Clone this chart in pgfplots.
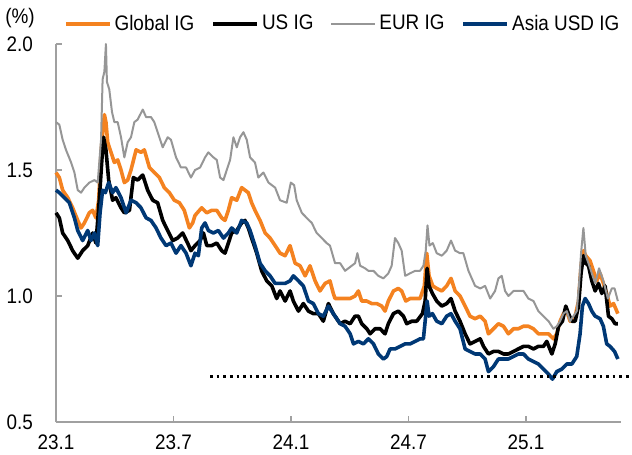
\documentclass[border=0pt]{standalone}
\usepackage{fontspec}
\setmainfont[FakeStretch=0.9]{Liberation Sans}
\usepackage{pgfplots}
\pgfplotsset{compat=1.18}
\definecolor{cOrange}{RGB}{244,130,32}
\definecolor{cBlue}{RGB}{0,56,117}
\definecolor{cGray}{RGB}{150,150,150}
\definecolor{axgray}{RGB}{160,160,160}
\begin{document}
\begin{tikzpicture}[font=\fontsize{10.5}{12}\selectfont]
\begin{axis}[
  scale only axis, width=282.5pt, height=189pt,
  xmin=0, xmax=28.85, ymin=0.5, ymax=2.0,
  clip=false,
  axis lines=left,
  axis line style={draw=axgray, line width=0.8pt, -},
  tick style={draw=axgray, line width=0.8pt},
  tick align=inside, major tick length=3pt,
  xtick={0,6,12,18,24}, xticklabels={23.1,23.7,24.1,24.7,25.1},
  ytick={0.5,1.0,1.5,2.0},
  /pgf/number format/assume math mode=true,
  yticklabel style={/pgf/number format/fixed, /pgf/number format/fixed zerofill, /pgf/number format/precision=1, xshift=-8pt},
  xticklabel style={yshift=-3pt},
  legend columns=4,
  legend image code/.code={\draw[#1] (0pt,0pt) -- (22pt,0pt);},
  legend style={draw=none, fill=none, at={(axis description cs:0,1)}, anchor=west,
    xshift=4pt, yshift=10pt, inner sep=0pt, outer sep=0pt,
    nodes={inner xsep=1.5pt, inner ysep=0pt},
    /tikz/every even column/.append style={column sep=7pt}},
  every axis plot/.append style={line join=round},
]
\addplot[cOrange, line width=1.8pt] coordinates {
(0,1.49)(0.17,1.47)(0.34,1.42)(0.60,1.39)(0.85,1.35)(1.11,1.30)(1.28,1.27)(1.45,1.29)(1.70,1.33)(1.87,1.34)(2.04,1.31)(2.18,1.38)(2.30,1.57)(2.47,1.72)(2.55,1.69)(2.64,1.61)(2.81,1.57)(2.98,1.53)(3.15,1.54)(3.32,1.50)(3.49,1.45)(3.66,1.46)(3.83,1.50)(4.09,1.58)(4.34,1.57)(4.51,1.58)(4.77,1.51)(5.02,1.49)(5.28,1.47)(5.53,1.43)(5.79,1.41)(6.04,1.38)(6.30,1.37)(6.55,1.34)(6.81,1.27)(6.98,1.29)
(7.10,1.32)(7.44,1.35)(7.70,1.33)(7.95,1.34)(8.21,1.34)(8.46,1.31)(8.63,1.30)(8.80,1.34)(8.97,1.39)(9.23,1.38)(9.48,1.43)(9.65,1.42)(9.82,1.41)(9.99,1.37)(10.16,1.34)(10.42,1.30)(10.68,1.25)(10.93,1.23)(11.19,1.20)(11.44,1.17)(11.70,1.16)(11.95,1.20)(12.21,1.13)(12.46,1.12)(12.72,1.08)(12.97,1.12)(13.23,1.06)(13.48,1.02)(13.74,1.05)(13.99,1.06)(14.16,1.01)
(14.25,0.99)(14.51,0.99)(14.76,0.99)(15.02,0.99)(15.27,1.00)(15.44,1.02)(15.61,0.98)(15.87,0.98)(16.12,0.97)(16.38,0.97)(16.63,0.96)(16.80,0.94)(16.97,0.98)(17.23,1.02)(17.48,1.03)(17.65,1.02)(17.86,0.98)(18.08,0.99)(18.34,0.99)(18.59,0.99)(18.81,1.04)(18.93,1.17)(19.05,1.08)(19.24,1.04)(19.44,1.03)(19.70,1.02)(19.95,1.04)(20.17,1.07)(20.38,1.02)(20.63,1.00)(20.89,0.96)(21.14,0.92)
(21.40,0.91)(21.66,0.92)(21.91,0.90)(22.08,0.85)(22.34,0.87)(22.59,0.89)(22.85,0.88)(23.10,0.85)(23.36,0.87)(23.61,0.87)(23.87,0.88)(24.12,0.88)(24.38,0.87)(24.63,0.85)(24.89,0.85)(25.15,0.85)(25.40,0.83)(25.57,0.85)(25.74,0.90)(25.91,0.93)(26.08,0.94)(26.25,0.90)(26.51,0.92)(26.68,0.98)(26.81,1.12)(26.93,1.18)(27.05,1.16)(27.27,1.14)(27.44,1.10)(27.61,1.06)(27.78,1.09)(27.95,1.05)(28.12,1.01)(28.29,0.96)(28.47,0.97)(28.69,0.93)
};
\addlegendentry{Global IG}
\addplot[black, line width=1.8pt] coordinates {
(0,1.33)(0.17,1.31)(0.34,1.25)(0.60,1.22)(0.85,1.18)(1.11,1.15)(1.36,1.18)(1.62,1.20)(1.87,1.25)(2.04,1.21)(2.21,1.38)(2.35,1.55)(2.43,1.63)(2.55,1.58)(2.69,1.46)(2.89,1.38)(3.06,1.39)(3.32,1.35)(3.49,1.33)(3.75,1.34)(3.95,1.47)(4.17,1.46)(4.43,1.48)(4.68,1.42)(4.94,1.38)(5.19,1.37)(5.45,1.30)(5.70,1.26)(5.96,1.22)(6.21,1.23)(6.47,1.25)(6.72,1.21)(6.89,1.18)
(7.10,1.20)(7.36,1.22)(7.53,1.25)(7.70,1.20)(7.95,1.20)(8.21,1.21)(8.46,1.18)(8.63,1.17)(8.80,1.21)(8.97,1.25)(9.23,1.26)(9.48,1.29)(9.65,1.30)(9.82,1.27)(9.99,1.23)(10.25,1.17)(10.50,1.10)(10.76,1.06)(11.02,1.04)(11.27,0.99)(11.44,1.02)(11.70,0.98)(11.95,1.02)(12.12,0.98)(12.38,0.94)(12.63,0.97)(12.89,0.94)(13.14,0.93)(13.40,0.93)(13.65,0.90)(13.91,0.97)(14.16,0.93)
(14.51,0.89)(14.76,0.90)(15.02,0.89)(15.27,0.92)(15.44,0.92)(15.61,0.89)(15.87,0.87)(16.04,0.85)(16.29,0.87)(16.55,0.87)(16.80,0.85)(16.97,0.89)(17.23,0.93)(17.48,0.94)(17.74,0.92)(17.91,0.89)(18.17,0.90)(18.42,0.90)(18.71,0.93)(18.85,0.98)(18.95,1.11)(19.05,1.04)(19.22,1.01)(19.44,0.98)(19.70,0.96)(19.95,0.97)(20.17,0.99)(20.38,0.94)(20.63,0.90)(20.89,0.85)(21.14,0.81)
(21.40,0.82)(21.66,0.83)(21.83,0.80)(22.08,0.77)(22.34,0.78)(22.59,0.78)(22.85,0.77)(23.10,0.77)(23.36,0.78)(23.61,0.79)(23.87,0.80)(24.12,0.80)(24.38,0.79)(24.63,0.80)(24.89,0.80)(25.06,0.82)(25.32,0.77)(25.49,0.81)(25.66,0.88)(25.86,0.90)(26.03,0.96)(26.17,0.93)(26.34,0.90)(26.51,0.90)(26.68,0.96)(26.81,1.09)(26.93,1.16)(27.05,1.13)(27.19,1.12)(27.36,1.06)(27.53,1.02)(27.70,1.05)(27.87,1.01)(28.04,1.04)(28.21,0.92)(28.38,0.91)(28.55,0.89)(28.69,0.89)
};
\addlegendentry{US IG}
\addplot[cGray, line width=1pt] coordinates {
(0,1.69)(0.17,1.68)(0.34,1.62)(0.51,1.58)(0.77,1.53)(0.94,1.49)(1.11,1.42)(1.28,1.41)(1.45,1.43)(1.70,1.45)(1.96,1.46)(2.13,1.45)(2.30,1.62)(2.38,1.86)(2.47,1.89)(2.55,2.00)(2.60,1.85)(2.72,1.82)(2.86,1.73)(2.98,1.69)(3.15,1.69)(3.32,1.63)(3.49,1.55)(3.66,1.61)(3.83,1.63)(4.00,1.69)(4.17,1.70)(4.43,1.74)(4.60,1.71)(4.85,1.71)(5.02,1.69)(5.19,1.65)(5.45,1.59)(5.70,1.63)(5.87,1.62)(6.13,1.55)(6.38,1.51)(6.64,1.51)(6.89,1.47)
(7.10,1.50)(7.36,1.51)(7.61,1.55)(7.78,1.57)(8.04,1.55)(8.21,1.54)(8.38,1.47)(8.55,1.46)(8.72,1.50)(8.89,1.54)(9.06,1.63)(9.23,1.59)(9.40,1.63)(9.57,1.65)(9.74,1.62)(9.91,1.55)(10.16,1.53)(10.33,1.47)(10.59,1.49)(10.85,1.45)(11.19,1.43)(11.44,1.38)(11.78,1.37)(11.99,1.45)(12.16,1.44)(12.29,1.38)(12.55,1.33)(12.80,1.31)(13.06,1.29)(13.31,1.25)(13.57,1.23)(13.82,1.21)(13.99,1.20)(14.25,1.13)
(14.51,1.13)(14.76,1.10)(15.27,1.13)(15.39,1.17)(15.53,1.12)(15.78,1.11)(15.95,1.10)(16.21,1.10)(16.46,1.08)(16.72,1.07)(16.97,1.09)(17.14,1.12)(17.31,1.23)(17.48,1.21)(17.65,1.18)(17.83,1.08)(18.08,1.09)(18.34,1.10)(18.59,1.10)(18.76,1.12)(18.88,1.18)(18.97,1.28)(19.07,1.20)(19.24,1.21)(19.44,1.17)(19.70,1.16)(19.95,1.18)(20.17,1.22)(20.38,1.18)(20.63,1.17)(20.80,1.17)(21.06,1.10)
(21.40,1.04)(21.66,1.03)(21.91,1.04)(22.17,0.99)(22.42,1.02)(22.59,1.07)(22.76,1.08)(22.93,1.02)(23.10,1.00)(23.36,1.02)(23.61,1.02)(23.87,1.02)(24.12,0.99)(24.38,0.98)(24.63,0.94)(24.89,0.92)(25.15,0.90)(25.40,0.87)(25.57,0.88)(25.74,0.90)(25.91,0.93)(26.08,0.94)(26.25,0.90)(26.42,0.92)(26.59,0.94)(26.71,1.05)(26.81,1.17)(26.93,1.27)(27.05,1.16)(27.19,1.13)(27.36,1.09)(27.53,1.05)(27.73,1.11)(27.95,1.06)(28.18,0.99)(28.38,1.03)(28.52,1.03)(28.69,0.98)
};
\addlegendentry{EUR IG}
\addplot[cBlue, line width=1.8pt] coordinates {
(0,1.42)(0.17,1.41)(0.43,1.39)(0.68,1.37)(0.94,1.31)(1.11,1.26)(1.36,1.22)(1.62,1.26)(1.79,1.22)(1.96,1.25)(2.13,1.20)(2.25,1.33)(2.38,1.42)(2.52,1.41)(2.69,1.45)(2.89,1.41)(3.06,1.43)(3.32,1.39)(3.58,1.33)(3.83,1.38)(4.09,1.37)(4.34,1.35)(4.60,1.31)(4.85,1.30)(5.11,1.27)(5.36,1.23)(5.62,1.20)(5.87,1.21)(6.13,1.17)(6.38,1.20)(6.64,1.17)(6.89,1.12)
(7.10,1.17)(7.27,1.16)(7.44,1.27)(7.61,1.29)(7.78,1.26)(8.04,1.25)(8.29,1.26)(8.55,1.23)(8.80,1.25)(8.97,1.27)(9.23,1.25)(9.48,1.30)(9.74,1.29)(9.91,1.26)(10.16,1.20)(10.42,1.13)(10.68,1.10)(10.93,1.08)(11.19,1.05)(11.44,1.05)(11.70,1.05)(11.95,1.06)(12.12,1.08)(12.38,1.06)(12.63,1.04)(12.89,0.98)(13.14,0.97)(13.40,0.93)(13.65,0.92)(13.91,0.96)(14.16,0.93)
(14.51,0.89)(14.76,0.88)(15.02,0.85)(15.19,0.81)(15.44,0.82)(15.70,0.81)(15.95,0.83)(16.21,0.81)(16.46,0.77)(16.72,0.75)(16.89,0.76)(17.06,0.79)(17.31,0.79)(17.57,0.80)(17.83,0.81)(18.08,0.81)(18.34,0.82)(18.59,0.83)(18.76,0.83)(18.85,0.90)(18.95,0.98)(19.05,0.92)(19.22,0.93)(19.44,0.90)(19.70,0.89)(19.95,0.92)(20.17,0.93)(20.38,0.90)(20.63,0.87)(20.89,0.79)(21.14,0.78)
(21.40,0.77)(21.66,0.77)(21.91,0.75)(22.08,0.70)(22.34,0.72)(22.59,0.75)(22.85,0.75)(23.10,0.75)(23.36,0.76)(23.61,0.77)(23.87,0.77)(24.12,0.75)(24.38,0.74)(24.63,0.73)(24.89,0.71)(25.15,0.69)(25.35,0.67)(25.57,0.70)(25.83,0.71)(26.08,0.73)(26.34,0.73)(26.59,0.76)(26.76,0.85)(26.88,0.96)(27.02,0.99)(27.19,0.97)(27.36,0.94)(27.53,0.92)(27.78,0.91)(27.95,0.88)(28.12,0.81)(28.29,0.80)(28.52,0.78)(28.69,0.75)
};
\addlegendentry{Asia USD IG}
\addplot[black, line width=1.3pt, dash pattern=on 1.3pt off 2pt, forget plot] coordinates {(7.87,0.68) (29.3,0.68)};
\node at (axis description cs:0,1) [xshift=-18pt, yshift=13pt] {(\%)};
\end{axis}
\pgfresetboundingbox
\path[use as bounding box] ([shift={(-28pt,-16.5pt)}]current axis.south west) rectangle ([shift={(5.5pt,22pt)}]current axis.north east);
\end{tikzpicture}
\end{document}
